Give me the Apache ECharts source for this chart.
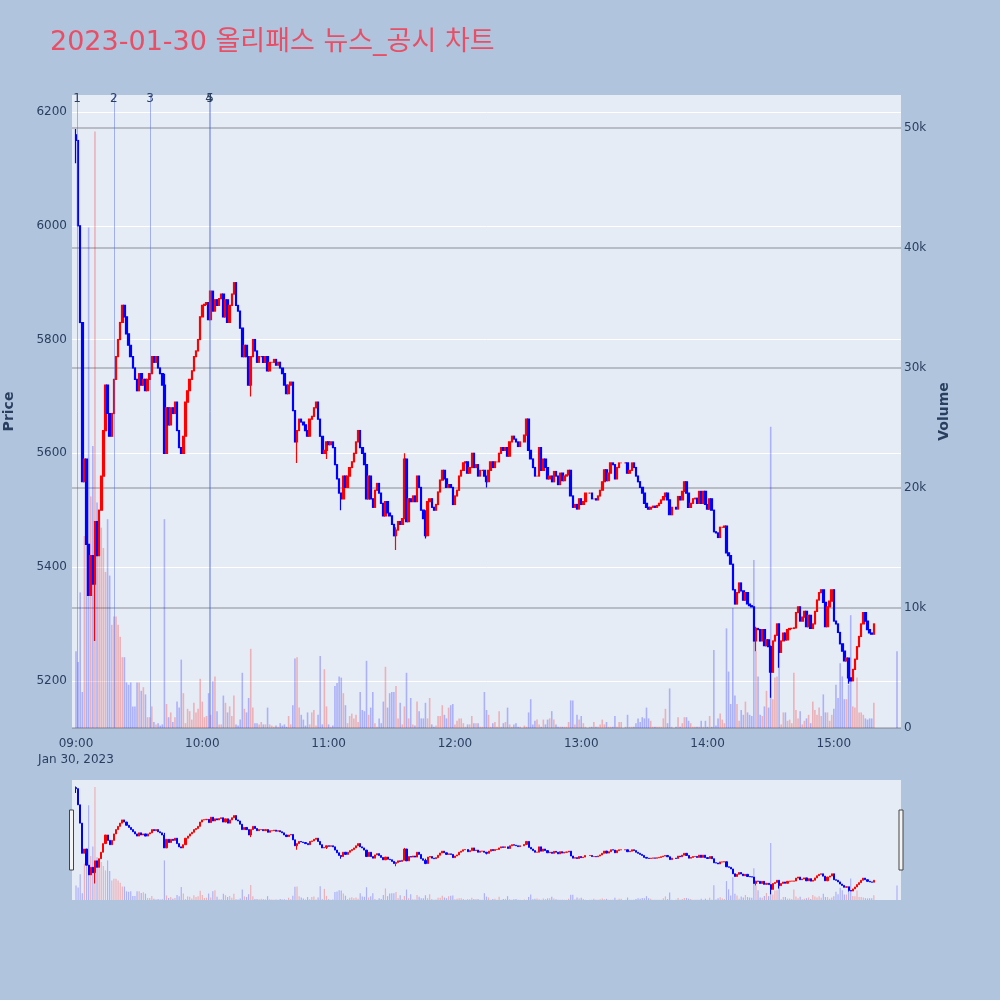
<!DOCTYPE html>
<html><head><meta charset="utf-8">
<script src="https://cdn.jsdelivr.net/npm/echarts@6/dist/echarts.min.js"></script>
<style>html,body{margin:0;padding:0;background:#b0c4de;}#c{width:1000px;height:1000px;}</style>
</head><body><div id="c"></div>
<script>
// ---------- data (minute index 0 = 09:00) ----------
const chartTitle = '2023-01-30 올리패스 뉴스_공시 차트';
const firstOpen = 6160;
const closes = [
6150,6000,5830,5550,5590,5440,5350,5420,5370,5480,
5420,5500,5560,5640,5720,5670,5630,5670,5730,5770,
5800,5830,5860,5840,5810,5790,5770,5750,5730,5710,
5740,5720,5730,5710,5730,5740,5770,5760,5770,5750,
5740,5720,5600,5680,5650,5680,5670,5690,5640,5610,
5600,5630,5690,5710,5730,5745,5770,5780,5800,5840,
5860,5862,5865,5835,5885,5850,5870,5860,5872,5880,
5840,5870,5830,5860,5880,5900,5860,5850,5820,5770,
5790,5770,5720,5770,5800,5780,5760,5770,5770,5760,
5770,5745,5760,5760,5765,5755,5760,5750,5740,5720,
5705,5720,5725,5675,5620,5640,5660,5655,5650,5640,
5630,5660,5665,5680,5690,5660,5630,5600,5605,5620,
5615,5620,5610,5580,5555,5530,5520,5560,5540,5560,
5575,5585,5600,5620,5640,5610,5600,5580,5520,5560,
5520,5505,5535,5547,5530,5512,5490,5515,5495,5490,
5475,5455,5465,5480,5475,5485,5590,5480,5520,5515,
5525,5515,5560,5540,5500,5485,5455,5515,5520,5505,
5500,5510,5532,5553,5570,5555,5540,5545,5540,5510,
5525,5535,5560,5570,5583,5585,5565,5575,5600,5575,
5580,5560,5570,5570,5560,5550,5570,5585,5575,5585,
5585,5600,5610,5605,5610,5595,5620,5630,5625,5620,
5612,5620,null,5632,5660,5605,5590,5575,5560,5560,
5610,5570,5590,5575,5555,5560,5550,5568,5560,5545,
5565,5552,5560,5562,5570,5525,5505,5510,5502,5520,
5510,5515,5530,null,5530,5520,5520,5518,5525,5535,
5550,5571,5552,5565,5583,5580,5555,5575,5583,5583,
null,5583,5565,5570,5583,5575,5560,5550,5540,5530,
5512,5505,5502,5505,5507,5505,5508,5512,5518,5524,
5530,5518,5492,5505,null,5502,5524,5518,5533,5550,
5530,5505,5512,5520,5521,5512,5533,5512,5533,5510,
5502,5520,5500,5462,5460,5452,5470,5470,5472,5425,
5420,5405,5360,5335,5355,5372,5358,5342,5355,5335,
5332,5330,5270,5292,5290,5270,5290,5262,5272,5260,
5215,5270,5280,5300,5250,5270,5284,5272,5290,5292,
5292,5293,5320,5330,5305,5312,5322,5295,5315,5292,
5300,5322,5342,5355,5360,5338,5295,5330,5340,5360,
5305,5300,5285,5265,5252,5235,5240,5205,5200,5220,
5238,5260,5278,5300,5320,5305,5290,5284,5282,5300
];
// volume in thousands of shares per minute
const volumesK = [
6.4,5.5,11.3,3.0,16.0,19.3,41.7,19.3,23.5,49.7,
18.8,17.8,16.7,15.0,13.0,17.4,12.7,8.6,9.3,9.3,
8.6,7.6,5.9,5.9,3.8,3.6,3.8,1.8,1.8,3.8,
3.8,3.1,3.4,2.8,0.9,0.9,1.8,0.5,0.3,0.4,
0.2,0.3,17.4,2.0,0.9,1.3,0.5,0.9,2.2,1.7,
5.7,2.9,0.4,1.6,1.4,0.7,2.1,1.3,1.6,4.1,
2.2,0.9,1.0,2.9,1.1,3.9,4.3,1.4,0.3,0.3,
2.7,2.1,1.3,1.8,1.0,2.7,0.3,0.2,0.7,4.6,
1.6,1.3,2.5,6.6,1.7,0.4,0.4,0.3,0.5,0.3,
0.3,1.7,0.3,0.2,0.1,0.2,0.1,0.4,0.2,0.3,
0.1,1.0,0.3,1.9,5.8,5.9,1.7,1.1,0.7,0.2,
1.3,0.3,1.3,1.5,0.2,1.1,6.0,0.3,4.9,1.8,
0.3,0.1,0.2,3.5,3.75,4.3,4.2,2.9,1.9,0.4,
1.0,1.2,0.8,1.1,0.5,3.0,1.5,1.4,5.6,1.1,
1.7,3.0,0.4,0.1,0.8,0.4,2.2,5.1,1.7,2.9,
3.0,3.0,3.5,0.8,2.1,0.3,1.8,4.6,0.8,2.5,
0.3,0.2,2.2,1.4,0.8,0.8,2.1,0.8,2.5,0.3,
0.1,0.2,1.0,1.0,1.9,1.1,0.8,1.7,1.9,2.0,
0.3,0.6,0.8,0.8,0.4,0.1,0.3,0.3,1.0,0.4,
0.4,0.4,0.1,0.1,3.0,1.5,1.1,0.1,0.4,0.5,
0.1,1.4,0.1,0.4,0.5,1.7,0.3,0.1,0.3,0.4,
0.1,0.1,0,0.2,0.1,1.3,2.4,0.3,0.6,0.7,
0.3,0.1,0.7,0.3,0.7,0.8,1.4,0.7,0.3,0.1,
0.1,0.1,0.1,0.1,0.5,2.3,2.3,0.3,1.1,0.7,
1.0,0.4,0.1,0,0.1,0.1,0.5,0.1,0.1,0.3,
0.7,0.3,0.5,0.1,0.1,0.1,1.0,0.1,0.5,0.5,
0,0.1,1.1,0.1,0.1,0.1,0.4,0.8,0.5,0.9,
0.8,1.7,0.8,0.6,0.1,0.1,0.1,0.1,0.1,0.8,
1.6,0.4,3.3,0.1,0,0.1,0.9,0.1,0.4,0.9,
0.9,0.6,0.4,0.1,0.1,0.1,0.1,0.6,0.1,0.6,
0.1,1.0,0.1,6.5,0.2,0.8,1.2,0.7,0.4,8.3,
4.7,2.0,10.0,2.7,2.0,0.6,1.5,1.1,2.2,1.3,
1.1,1.0,14.0,6.4,4.3,1.1,1.0,1.8,3.1,1.7,
25.1,2.4,4.2,4.3,6.3,0.3,1.3,1.3,0.6,0.7,
0.4,4.6,1.5,0.8,1.4,0.3,0.6,0.8,1.1,0.4,
2.2,1.5,1.1,1.7,1.0,2.8,1.3,1.3,0.6,1.1,
1.6,3.6,2.5,5.4,4.3,2.4,2.4,3.6,9.4,1.8,
1.7,4.2,1.3,1.3,1.1,0.8,0.7,0.8,0.8,2.1
];
// visible wicks: [minute, low, high]
const wicks = [[0,6110,6170],[9,5270,5480],[42,5600,5740],[83,5700,5770],[105,5583,5640],
  [119,5590,5620],[126,5500,5530],[152,5430,5470],[156,5485,5600],[166,5450,5500],
  [195,5540,5560],[323,5252,5295],[330,5170,5262],[334,5223,5300],[367,5195,5240]];
const auctionMinute = 390;       // 15:30 closing auction
const auctionVolumeK = 6.4;
const eventNames = ['1','2','3','4','5'];
const eventMinutes = [0.5, 18, 35.2, 63.2, 63.7];
const hourTicks = [0,60,120,180,240,300,360];
const priceTicks = [5200,5400,5600,5800,6000,6200];
const volumeTicks = [0,10000,20000,30000,40000,50000];

// ---------- build ----------
const UP = '#ff0000', DN = '#0000ff';
const UPV = 'rgba(255,0,0,0.25)', DNV = 'rgba(0,0,255,0.25)';
const candles = [], vols = [];
let prev = firstOpen;
closes.forEach((c, i) => {
  if (c == null) return;
  const o = prev;
  let lo = Math.min(o, c), hi = Math.max(o, c);
  const w = wicks.find(x => x[0] === i);
  if (w) { lo = Math.min(lo, w[1]); hi = Math.max(hi, w[2]); }
  candles.push([i, o, c, lo, hi]);
  vols.push({ value: [i, volumesK[i] * 1000], itemStyle: { color: c >= o ? UPV : DNV } });
  prev = c;
});
vols.push({ value: [auctionMinute, auctionVolumeK * 1000], itemStyle: { color: DNV } });

const FONT = '"DejaVu Sans", "Noto Sans CJK KR", sans-serif';
const TXT = '#2a3f5f';
const XMIN = -1.9, XMAX = 391.9;
const PMIN = 5117, PMAX = 6230, VMAX = 52750;
const fmtTime = v => {
  const h = 9 + Math.floor(v / 60), m = v % 60;
  const s = String(h).padStart(2, '0') + ':' + String(m).padStart(2, '0');
  return v === 0 ? s + '\nJan 30, 2023' : s;
};
const candleStyle = { color: UP, color0: DN, borderColor: UP, borderColor0: DN, borderWidth: 1.2 };

const chart = echarts.init(document.getElementById('c'), null, { renderer: 'canvas' });
chart.setOption({
  animation: false,
  backgroundColor: '#b0c4de',
  textStyle: { fontFamily: FONT },
  title: { text: chartTitle, left: 45, top: 24,
    textStyle: { color: '#e84f66', fontSize: 27, fontWeight: 'normal', fontFamily: FONT } },
  grid: [
    { left: 72, top: 95, width: 829, height: 633, show: true, backgroundColor: '#e5ecf6', borderWidth: 0,
      containLabel: false, outerBoundsMode: 'none' },
    { left: 72, top: 780, width: 829, height: 120, show: true, backgroundColor: '#e5ecf6', borderWidth: 0,
      containLabel: false, outerBoundsMode: 'none' }
  ],
  xAxis: [
    { type: 'value', gridIndex: 0, min: XMIN, max: XMAX,
      axisLine: { show: false }, axisTick: { show: false, customValues: hourTicks },
      splitLine: { show: false },
      axisLabel: { customValues: hourTicks, formatter: fmtTime, color: TXT, fontSize: 12, margin: 8, lineHeight: 16, fontFamily: FONT } },
    { type: 'value', gridIndex: 1, min: XMIN, max: XMAX, show: false, splitLine: { show: false } }
  ],
  yAxis: [
    { type: 'value', gridIndex: 0, position: 'left', min: PMIN, max: PMAX,
      axisLine: { show: false }, axisTick: { show: false, customValues: priceTicks },
      axisLabel: { customValues: priceTicks, formatter: v => String(v), color: TXT, fontSize: 12, margin: 5, fontFamily: FONT },
      splitLine: { show: true, lineStyle: { color: '#ffffff', width: 1 } },
      name: 'Price', nameLocation: 'middle', nameGap: 56, nameRotate: 90,
      nameTextStyle: { color: TXT, fontSize: 14, fontWeight: 'bold', fontFamily: FONT } },
    { type: 'value', gridIndex: 0, position: 'right', min: 0, max: VMAX,
      axisLine: { show: false }, axisTick: { show: false, customValues: volumeTicks },
      axisLabel: { customValues: volumeTicks, formatter: v => v === 0 ? '0' : (v / 1000) + 'k', color: TXT, fontSize: 12, margin: 3, fontFamily: FONT },
      splitLine: { show: true, lineStyle: { color: 'rgba(110,110,115,0.5)', width: 1.5 } },
      name: 'Volume', nameLocation: 'middle', nameGap: 26, nameRotate: 90,
      nameTextStyle: { color: TXT, fontSize: 14, fontWeight: 'bold', fontFamily: FONT } },
    { type: 'value', gridIndex: 1, min: PMIN, max: PMAX, show: false, splitLine: { show: false } },
    { type: 'value', gridIndex: 1, min: 0, max: VMAX, show: false, splitLine: { show: false } }
  ],
  series: [
    { type: 'bar', xAxisIndex: 0, yAxisIndex: 1, data: vols, barWidth: 1.6, z: 1, silent: true },
    { type: 'candlestick', xAxisIndex: 0, yAxisIndex: 0, data: candles, barWidth: 2, z: 3,
      encode: { x: 0, y: [1, 2, 3, 4] }, itemStyle: candleStyle, silent: true,
      markLine: { symbol: 'none', silent: true, animation: false,
        lineStyle: { color: 'rgba(70,100,230,0.45)', width: 1, type: 'solid' },
        label: { show: true, position: 'end', formatter: p => p.name, color: TXT, fontSize: 12, distance: -10, fontFamily: FONT },
        emphasis: { disabled: true },
        data: eventMinutes.map((m, i) => ({ xAxis: m, name: eventNames[i] })) } },
    { type: 'bar', xAxisIndex: 1, yAxisIndex: 3, data: vols, barWidth: 1.2, z: 1, silent: true },
    { type: 'candlestick', xAxisIndex: 1, yAxisIndex: 2, data: candles, barWidth: 1.6, z: 3,
      encode: { x: 0, y: [1, 2, 3, 4] }, itemStyle: { color: UP, color0: DN, borderColor: UP, borderColor0: DN, borderWidth: 1 }, silent: true }
  ],
  graphic: [
    { type: 'rect', shape: { x: 69.5, y: 810, width: 4, height: 60 }, style: { fill: '#f4f4f4', stroke: '#444', lineWidth: 1 }, z: 100 },
    { type: 'rect', shape: { x: 899, y: 810, width: 4, height: 60 }, style: { fill: '#f4f4f4', stroke: '#444', lineWidth: 1 }, z: 100 }
  ]
});
</script>
</body></html>
